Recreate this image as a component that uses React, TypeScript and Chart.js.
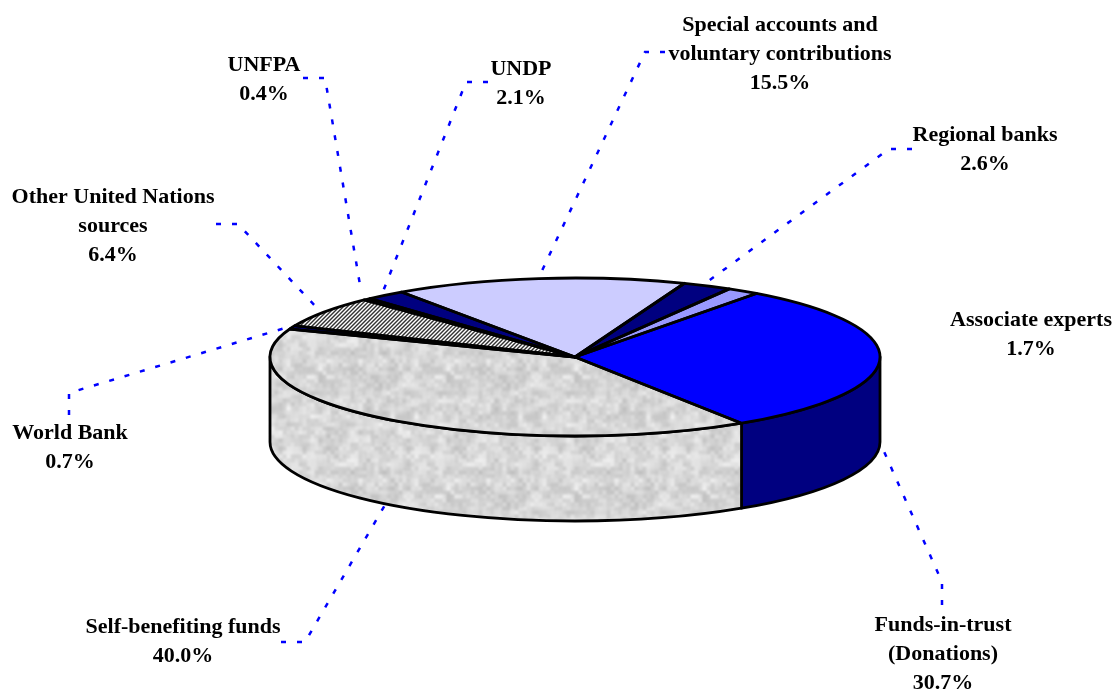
import React, { useEffect, useRef } from "react";
import { Chart, registerables } from "chart.js";

Chart.register(...registerables);

const categories = [
  "Funds-in-trust (Donations)",
  "Self-benefiting funds",
  "World Bank",
  "Other United Nations sources",
  "UNFPA",
  "UNDP",
  "Special accounts and voluntary contributions",
  "Regional banks",
  "Associate experts",
];
const shares = [30.7, 40.0, 0.7, 6.4, 0.4, 2.1, 15.5, 2.6, 1.7];
const topColors = ["#0000ff", "noise", "#0000ff", "hatch", "#000080", "#000080", "#ccccff", "#000080", "#9999ff"];
const sideColors = ["#000080", "noise", "#0000ff", "hatch", "#000080", "#000080", "#ccccff", "#000080", "#9999ff"];
const labelLines = [
  ["Funds-in-trust", "(Donations)"],
  ["Self-benefiting funds"],
  ["World Bank"],
  ["Other United Nations", "sources"],
  ["UNFPA"],
  ["UNDP"],
  ["Special accounts and", "voluntary contributions"],
  ["Regional banks"],
  ["Associate experts"],
];
// First-line centre of every label
const labelAnchors = [
  [943, 625], [183, 627], [70, 433], [113, 197], [264, 65], [521, 69], [780, 25], [985, 135], [1031, 320],
];
// Dotted leader lines
const leaders = [
  [[942, 605], [942, 582], [882, 447]],
  [[281, 642], [305, 642], [385, 505]],
  [[69, 415], [69, 393], [285, 328]],
  [[216, 224], [238, 224], [318, 309]],
  [[303, 78], [325, 78], [360, 285]],
  [[488, 82], [466, 82], [382, 294]],
  [[665, 52], [645, 52], [540, 275]],
  [[912, 149], [889, 149], [703, 285]],
];

const W = 1115;
const H = 690;
const CX = 575;
const CY = 357;
const RADIUS = 305;
const SQUASH = 0.259;
const DEPTH = 85;
const ROTATION = 36.5;
const EDGE = "#000000";
const EDGE_WIDTH = 2.8;
const FONT = 'bold 22px "Liberation Serif", "Times New Roman", serif';
const LINE_STEP = 29;

function makeNoise(ctx: CanvasRenderingContext2D) {
  const size = 128;
  const c = document.createElement("canvas");
  c.width = size;
  c.height = size;
  const g = c.getContext("2d")!;
  const img = g.createImageData(size, size);
  const hash = (x: number, y: number, n: number) => {
    const s = Math.sin(((x + n) % n) * 12.9898 + ((y + n) % n) * 78.233 + n) * 43758.5453;
    return s - Math.floor(s);
  };
  const smooth = (t: number) => t * t * (3 - 2 * t);
  const layer = (x: number, y: number, cell: number) => {
    const n = size / cell;
    const fx = x / cell;
    const fy = y / cell;
    const ix = Math.floor(fx);
    const iy = Math.floor(fy);
    const u = smooth(fx - ix);
    const v = smooth(fy - iy);
    const a = hash(ix, iy, n) * (1 - u) + hash(ix + 1, iy, n) * u;
    const b = hash(ix, iy + 1, n) * (1 - u) + hash(ix + 1, iy + 1, n) * u;
    return a * (1 - v) + b * v;
  };
  for (let y = 0; y < size; y++) {
    for (let x = 0; x < size; x++) {
      const n = 0.55 * layer(x, y, 8) + 0.45 * layer(x, y, 4);
      const val = Math.round(190 + n * 50);
      const i = (y * size + x) * 4;
      img.data[i] = val;
      img.data[i + 1] = val;
      img.data[i + 2] = val;
      img.data[i + 3] = 255;
    }
  }
  g.putImageData(img, 0, 0);
  return ctx.createPattern(c, "repeat")!;
}

function makeHatch(ctx: CanvasRenderingContext2D) {
  const c = document.createElement("canvas");
  c.width = 4;
  c.height = 4;
  const g = c.getContext("2d")!;
  g.fillStyle = "#ffffff";
  g.fillRect(0, 0, 4, 4);
  g.fillStyle = "#333333";
  for (let y = 0; y < 4; y++) {
    for (let x = 0; x < 4; x++) {
      if ((x + y) % 4 < 2) g.fillRect(x, y, 1, 1);
    }
  }
  return ctx.createPattern(c, "repeat")!;
}

function arcProps(el: any) {
  return el.getProps(["x", "y", "startAngle", "endAngle", "outerRadius"], true);
}

const pie3d = {
  id: "pie3d",
  beforeDatasetsDraw(chart: any) {
    const ctx: CanvasRenderingContext2D = chart.ctx;
    const paints = chart.data.datasets[0].sidePaints as (string | CanvasPattern)[];
    const meta = chart.getDatasetMeta(0);
    meta.data.forEach((el: any, i: number) => {
      const p = arcProps(el);
      const ry = p.outerRadius * SQUASH;
      for (const shift of [-2 * Math.PI, 0, 2 * Math.PI]) {
        const a = Math.max(p.startAngle + shift, 0);
        const b = Math.min(p.endAngle + shift, Math.PI);
        if (b <= a) continue;
        ctx.save();
        ctx.beginPath();
        ctx.ellipse(p.x, p.y, p.outerRadius, ry, 0, a, b);
        ctx.ellipse(p.x, p.y + DEPTH, p.outerRadius, ry, 0, b, a, true);
        ctx.closePath();
        ctx.fillStyle = paints[i];
        ctx.fill();
        ctx.strokeStyle = EDGE;
        ctx.lineWidth = EDGE_WIDTH;
        ctx.lineJoin = "round";
        ctx.stroke();
        ctx.restore();
      }
    });
  },
  beforeDatasetDraw(chart: any) {
    const ctx: CanvasRenderingContext2D = chart.ctx;
    const p = arcProps(chart.getDatasetMeta(0).data[0]);
    ctx.save();
    ctx.translate(p.x, p.y);
    ctx.scale(1, SQUASH);
    ctx.translate(-p.x, -p.y);
  },
  afterDatasetDraw(chart: any) {
    chart.ctx.restore();
  },
  afterDatasetsDraw(chart: any) {
    const ctx: CanvasRenderingContext2D = chart.ctx;
    const meta = chart.getDatasetMeta(0);
    ctx.save();
    ctx.strokeStyle = EDGE;
    ctx.lineWidth = EDGE_WIDTH;
    ctx.lineJoin = "round";
    meta.data.forEach((el: any) => {
      const p = arcProps(el);
      ctx.beginPath();
      ctx.moveTo(p.x, p.y);
      ctx.ellipse(p.x, p.y, p.outerRadius, p.outerRadius * SQUASH, 0, p.startAngle, p.endAngle);
      ctx.closePath();
      ctx.stroke();
    });
    ctx.restore();
  },
  afterDraw(chart: any) {
    const ctx: CanvasRenderingContext2D = chart.ctx;
    ctx.save();
    ctx.strokeStyle = "#0000ff";
    ctx.lineWidth = 2.5;
    ctx.setLineDash([5, 11]);
    leaders.forEach((pts) => {
      ctx.beginPath();
      pts.forEach(([x, y], i) => (i ? ctx.lineTo(x, y) : ctx.moveTo(x, y)));
      ctx.stroke();
    });
    ctx.setLineDash([]);
    ctx.fillStyle = "#000000";
    ctx.font = FONT;
    ctx.textAlign = "center";
    ctx.textBaseline = "middle";
    categories.forEach((_, i) => {
      const lines = [...labelLines[i], `${shares[i].toFixed(1)}%`];
      const [x, y] = labelAnchors[i];
      lines.forEach((t, k) => ctx.fillText(t, x, y + k * LINE_STEP));
    });
    ctx.restore();
  },
};

export default function App() {
  const ref = useRef<HTMLCanvasElement>(null);
  useEffect(() => {
    const canvas = ref.current!;
    const ctx = canvas.getContext("2d")!;
    const noise = makeNoise(ctx);
    const hatch = makeHatch(ctx);
    const flat = new DOMMatrix().scale(1, 1 / SQUASH);
    const noiseTop = makeNoise(ctx);
    noiseTop.setTransform(flat);
    const hatchTop = makeHatch(ctx);
    hatchTop.setTransform(flat);
    const topPaint = (c: string) => (c === "noise" ? noiseTop : c === "hatch" ? hatchTop : c);
    const sidePaint = (c: string) => (c === "noise" ? noise : c === "hatch" ? hatch : c);
    const chart: any = new Chart(canvas, {
      type: "pie",
      data: {
        labels: categories,
        datasets: [
          {
            data: shares,
            backgroundColor: topColors.map(topPaint) as any,
            sidePaints: sideColors.map(sidePaint),
            borderWidth: 0,
            hoverOffset: 0,
          },
        ],
      },
      options: {
        animation: false,
        responsive: false,
        rotation: ROTATION,
        layout: {
          padding: {
            left: CX - RADIUS,
            right: W - CX - RADIUS,
            top: CY - RADIUS,
            bottom: H - CY - RADIUS,
          },
        },
        plugins: { legend: { display: false }, tooltip: { enabled: false } },
      },
      plugins: [pie3d],
    } as any);
    return () => chart.destroy();
  }, []);
  return (
    <div style={{ position: "absolute", left: 0, top: 0, width: W, height: H, background: "#ffffff" }}>
      <canvas ref={ref} width={W} height={H} style={{ display: "block" }} />
    </div>
  );
}
